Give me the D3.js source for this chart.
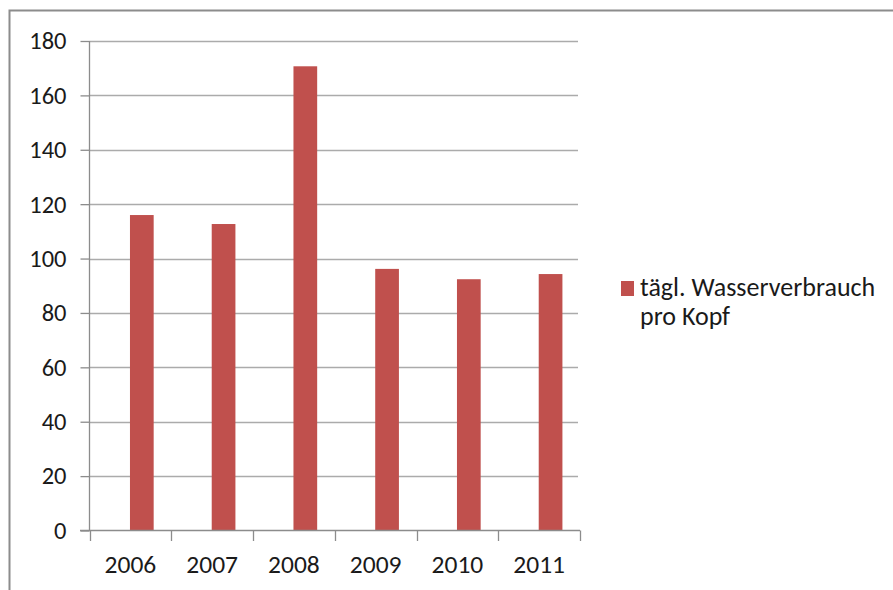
<!DOCTYPE html>
<html>
<head>
<meta charset="utf-8">
<script src="https://cdn.jsdelivr.net/npm/d3@7"></script>
<style>
  html, body { margin: 0; padding: 0; background: #fff; }
  svg { display: block; }
  text { font-family: Carlito, Calibri, "Noto Sans", "Open Sans", sans-serif; fill: #1a1a1a; }
</style>
</head>
<body>
<svg id="chart" width="893" height="590"></svg>
<script>
const years = ["2006", "2007", "2008", "2009", "2010", "2011"];
const values = [116, 112.7, 170.7, 96.2, 92.4, 94.3];
const yTicks = [0, 20, 40, 60, 80, 100, 120, 140, 160, 180];
const seriesName = ["tägl. Wasserverbrauch", "pro Kopf"];

const svg = d3.select("#chart");
const W = 893, H = 590;

// outer chart border
svg.append("rect")
  .attr("x", 9.5).attr("y", 10.5)
  .attr("width", W + 20).attr("height", H + 20)
  .attr("fill", "#fff")
  .attr("stroke", "#8c8c8c").attr("stroke-width", 2);

const x = d3.scaleBand().domain(years).range([89.5, 580]);
const y = d3.scaleLinear().domain([0, 180]).range([530.5, 41]);

// gridlines
svg.append("g").selectAll("line").data(yTicks.filter(d => d > 0)).join("line")
  .attr("x1", 89.5).attr("x2", 578)
  .attr("y1", d => Math.round(y(d)) + 0.5).attr("y2", d => Math.round(y(d)) + 0.5)
  .attr("stroke", "#ababab").attr("stroke-width", 1.3);

// bars
svg.append("g").selectAll("rect").data(values).join("rect")
  .attr("x", (d, i) => x(years[i]) + x.bandwidth() * 0.495)
  .attr("width", x.bandwidth() * 0.29)
  .attr("y", d => y(d))
  .attr("height", d => y(0) - y(d))
  .attr("fill", "#C0504D");

// y axis
const yAxis = d3.axisLeft(y).tickValues(yTicks).tickSize(9).tickPadding(14);
const gy = svg.append("g").attr("transform", "translate(89.5,0)").call(yAxis);
gy.select(".domain").attr("stroke", "#8c8c8c").attr("stroke-width", 1.3)
  .attr("d", "M0,41V530.5");
gy.selectAll(".tick line").attr("stroke", "#8c8c8c").attr("stroke-width", 1.3);
gy.selectAll(".tick text").attr("font-size", 24.5).attr("fill", "#1a1a1a")
  .attr("font-family", 'Carlito, Calibri, "Noto Sans", sans-serif');

// x axis
const xAxis = d3.axisBottom(x).tickSize(0).tickPadding(0);
const gx = svg.append("g").attr("transform", "translate(0,530.5)").call(xAxis);
gx.select(".domain").attr("stroke", "#8c8c8c").attr("stroke-width", 1.3)
  .attr("d", "M80,0H580");
gx.selectAll(".tick text").attr("font-size", 25.5).attr("fill", "#1a1a1a")
  .attr("font-family", 'Carlito, Calibri, "Noto Sans", sans-serif')
  .attr("dy", null).attr("y", 42);

// x category boundary ticks
const bounds = years.map(d => x(d)).concat([x(years[years.length - 1]) + x.bandwidth()]);
svg.append("g").selectAll("line").data(bounds).join("line")
  .attr("x1", d => Math.round(d) + 0.5).attr("x2", d => Math.round(d) + 0.5)
  .attr("y1", 530.5).attr("y2", 541)
  .attr("stroke", "#8c8c8c").attr("stroke-width", 1.3);

// legend
const lg = svg.append("g");
lg.append("rect").attr("x", 621).attr("y", 281).attr("width", 13).attr("height", 15)
  .attr("fill", "#C0504D");
lg.selectAll("text").data(seriesName).join("text")
  .attr("x", 640).attr("y", (d, i) => 296 + i * 29)
  .attr("font-size", 26)
  .text(d => d);
</script>
</body>
</html>
